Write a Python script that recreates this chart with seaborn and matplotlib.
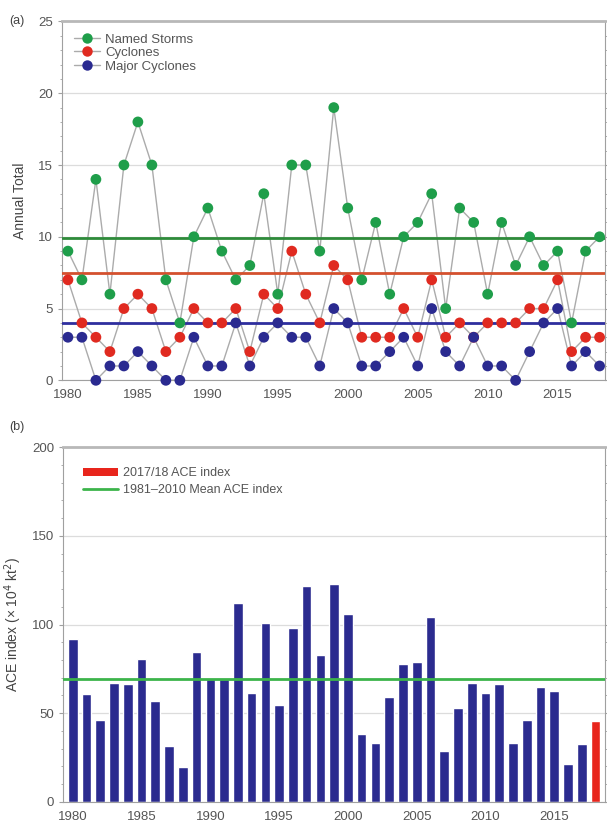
import numpy as np
import pandas as pd
import matplotlib
matplotlib.use("Agg")
import matplotlib.pyplot as plt
from matplotlib.lines import Line2D
from matplotlib.patches import Patch
from matplotlib.ticker import MultipleLocator
import seaborn as sns

sns.set_theme(style="white")
plt.rcParams["font.family"] = ["Liberation Sans", "DejaVu Sans"]

years = list(range(1980, 2019))

named_storms = [9, 7, 14, 6, 15, 18, 15, 7, 4, 10, 12, 9, 7, 8, 13, 6, 15, 15, 9, 19,
                12, 7, 11, 6, 10, 11, 13, 5, 12, 11, 6, 11, 8, 10, 8, 9, 4, 9, 10]
cyclones = [7, 4, 3, 2, 5, 6, 5, 2, 3, 5, 4, 4, 5, 2, 6, 5, 9, 6, 4, 8,
            7, 3, 3, 3, 5, 3, 7, 3, 4, 3, 4, 4, 4, 5, 5, 7, 2, 3, 3]
major_cyclones = [3, 3, 0, 1, 1, 2, 1, 0, 0, 3, 1, 1, 4, 1, 3, 4, 3, 3, 1, 5,
                  4, 1, 1, 2, 3, 1, 5, 2, 1, 3, 1, 1, 0, 2, 4, 5, 1, 2, 1]

mean_named = 9.9
mean_cyclones = 7.5
mean_major = 4.0

ace = [91.6, 60.8, 46.2, 67.2, 66.4, 80.3, 57.0, 31.5, 19.9, 84.6,
       69.1, 69.4, 111.9, 61.5, 101.0, 54.6, 97.8, 121.8, 82.8, 123.1,
       106.2, 38.1, 33.0, 59.3, 77.7, 78.6, 104.3, 28.9, 53.1, 67.2,
       61.2, 66.4, 33.0, 46.2, 64.9, 62.5, 21.2, 32.7, 45.8]
ace_mean = 69.4

series_names = ["Named Storms", "Cyclones", "Major Cyclones"]
point_colors = ["#1f9e4a", "#e02a20", "#2a2a90"]
mean_colors = ["#2e8b3a", "#d4502e", "#2e2e9e"]
line_gray = "#ababab"
tick_gray = "#555555"
spine_gray = "#a0a0a0"

counts = pd.DataFrame({
    "Year": years * 3,
    "Count": named_storms + cyclones + major_cyclones,
    "Series": sum([[n] * len(years) for n in series_names], []),
})
ace_df = pd.DataFrame({
    "Year": years,
    "ACE": ace,
    "Season": ["past"] * (len(years) - 1) + ["current"],
})

fig = plt.figure(figsize=(6.07, 8.25), dpi=100)
ax1 = fig.add_axes([0.102, 0.539, 0.895, 0.435])
ax2 = fig.add_axes([0.104, 0.028, 0.893, 0.430])


def style_axes(ax):
    for side in ["left", "bottom", "right"]:
        ax.spines[side].set_color(spine_gray)
        ax.spines[side].set_linewidth(0.8)
    ax.spines["top"].set_color("#b8b8b8")
    ax.spines["top"].set_linewidth(2.0)
    ax.tick_params(axis="both", which="major", direction="out", length=3,
                   color=spine_gray, labelcolor=tick_gray, labelsize=9.5, width=0.8)
    ax.tick_params(axis="both", which="minor", direction="out", length=1.5,
                   color=spine_gray, width=0.6)
    ax.tick_params(axis="y", which="both", right=True, direction="in")
    ax.tick_params(axis="y", which="both", left=True, direction="out")
    ax.yaxis.grid(True, which="major", color="#dcdcdc", linewidth=0.9)
    ax.set_axisbelow(True)


# (a) annual counts with connecting lines and climatological means
for name in series_names:
    sub = counts[counts["Series"] == name]
    sns.lineplot(data=sub, x="Year", y="Count", ax=ax1, color=line_gray,
                 linewidth=1.0, zorder=2, legend=False)

for val, col in zip([mean_named, mean_cyclones, mean_major], mean_colors):
    ax1.axhline(val, color=col, linewidth=2.0, zorder=3)

sns.scatterplot(data=counts, x="Year", y="Count", hue="Series",
                hue_order=series_names, palette=point_colors, s=60,
                edgecolor="none", ax=ax1, zorder=4, legend=False,
                clip_on=False)

ax1.set_xlim(1979.57, 2018.4)
ax1.set_ylim(0, 25)
ax1.xaxis.set_major_locator(MultipleLocator(5))
ax1.xaxis.set_minor_locator(MultipleLocator(1))
ax1.yaxis.set_major_locator(MultipleLocator(5))
ax1.yaxis.set_minor_locator(MultipleLocator(1))
ax1.set_xlabel("")
ax1.set_ylabel("Annual Total", fontsize=10, color="#444444", labelpad=8)
style_axes(ax1)

handles1 = [Line2D([0], [0], color=line_gray, linewidth=1.0, marker="o",
                   markersize=7.5, markerfacecolor=c, markeredgecolor="none")
            for c in point_colors]
ax1.legend(handles1, series_names, loc="upper left", frameon=False,
           fontsize=9.5, labelcolor="#555555", handlelength=2.0,
           handletextpad=0.4, labelspacing=0.1, borderaxespad=0.5,
           bbox_to_anchor=(0.0, 1.0))

fig.text(0.016, 0.975, "(a)", fontsize=9, color="#444444", va="center")

# (b) accumulated cyclone energy per season
sns.barplot(data=ace_df, x="Year", y="ACE", hue="Season",
            palette={"past": "#2b2b8f", "current": "#e8251c"},
            native_scale=True, width=0.7, ax=ax2, legend=False,
            saturation=1, zorder=2)
ax2.axhline(ace_mean, color="#3cb44b", linewidth=2.0, zorder=3)

ax2.set_xlim(1979.3, 2018.7)
ax2.set_ylim(0, 200)
ax2.xaxis.set_major_locator(MultipleLocator(5))
ax2.xaxis.set_minor_locator(MultipleLocator(1))
ax2.yaxis.set_major_locator(MultipleLocator(50))
ax2.yaxis.set_minor_locator(MultipleLocator(10))
ax2.set_xlabel("")
ax2.set_ylabel("ACE index (× 10$^4$ kt$^2$)", fontsize=10, color="#444444",
               labelpad=6)
style_axes(ax2)

handles2 = [Patch(facecolor="#e8251c", edgecolor="none"),
            Line2D([0], [0], color="#3cb44b", linewidth=2.0)]
ax2.legend(handles2, ["2017/18 ACE index", "1981–2010 Mean ACE index"],
           loc="upper left", frameon=False, fontsize=9, labelcolor="#555555",
           handlelength=2.8, handleheight=0.6, handletextpad=0.4,
           labelspacing=0.4, borderaxespad=1.2, bbox_to_anchor=(0.0, 1.0))

fig.text(0.016, 0.483, "(b)", fontsize=9, color="#444444", va="center")

fig.savefig("out.png", dpi=100)
